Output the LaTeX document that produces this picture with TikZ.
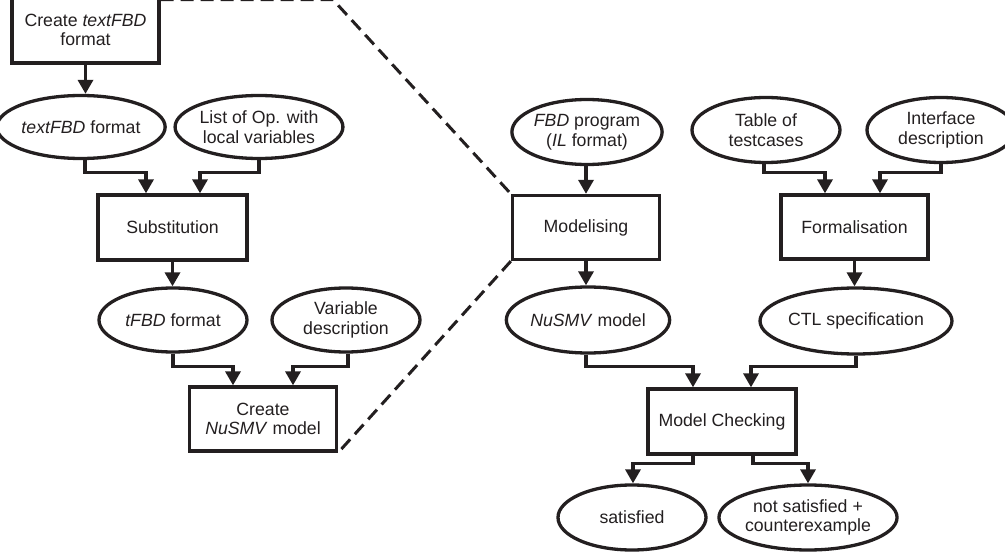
\documentclass[tikz,border=0pt]{standalone}
\usepackage{fontspec}
\setmainfont{Liberation Sans}
\usetikzlibrary{arrows.meta,shapes.geometric,calc}
\definecolor{ink}{RGB}{35,31,32}
\begin{document}
\begin{tikzpicture}[x=1pt,y=1pt,
  every node/.style={font=\fontsize{17.7}{19.5}\selectfont, text=ink, align=center},
  proc/.style={draw=ink, line width=3.3pt, rectangle, minimum width=147pt, minimum height=64pt, inner sep=0pt},
  data/.style={draw=ink, line width=3.3pt, ellipse, minimum width=148pt, minimum height=63pt, inner sep=0pt},
  arr/.style={draw=ink, line width=3.3pt, -{Triangle[length=14pt,width=15pt]}},
  zoomline/.style={draw=ink, line width=3pt, dash pattern=on 13pt off 7pt}]
\useasboundingbox (0,0) rectangle (1005,-556);
% left column
\node[proc, minimum height=66pt] (b1) at (85.5,-30) {Create \textit{textFBD}\\format};
\node[data] (e1) at (81,-127) {\textit{textFBD} format};
\node[data] (e2) at (259,-127) {List of Op. with\\local variables};
\node[proc, minimum width=149pt, minimum height=65pt] (b2) at (172.5,-227.5) {Substitution};
\node[data, minimum height=64pt] (e3) at (173,-320) {\textit{tFBD} format};
\node[data, minimum height=64pt] (e4) at (346,-320) {Variable\\description};
\node[proc] (b3) at (263,-419) {Create\\\textit{NuSMV} model};
% middle / right
\node[data, minimum height=65pt] (e5) at (587,-132) {\textit{FBD} program\\(\textit{IL} format)};
\node[proc] (b4) at (586,-227.5) {Modelising};
\node[data, minimum height=65pt] (e6) at (766,-130) {Table of\\testcases};
\node[data, minimum height=65pt] (e7) at (941,-130) {Interface\\description};
\node[proc] (b5) at (854.5,-227) {Formalisation};
\node[data, minimum width=150pt, minimum height=66pt] (e8) at (588,-320) {\textit{NuSMV} model};
\node[data, minimum height=66pt] (e9) at (856,-321) {CTL specification};
\node[proc, minimum width=148pt, minimum height=65pt] (b6) at (722,-421.5) {Model Checking};
\node[data, minimum height=65pt] (e10) at (632,-517.5) {satisfied};
\node[data, minimum height=65pt] (e11) at (808,-517.5) {not satisfied +\\counterexample};
% connectors
\draw[arr] (b1.south) -- (b1.south |- e1.north);
\draw[arr] (e1.south -| 85,0) |- ([xshift=-26.5pt,yshift=21pt]b2.north) -- ([xshift=-26.5pt]b2.north);
\draw[arr] (e2.south) |- ([xshift=27.5pt,yshift=21pt]b2.north) -- ([xshift=27.5pt]b2.north);
\draw[arr] (b2.south) -- (b2.south |- e3.north);
\draw[arr] (e3.south) |- ([xshift=-30pt,yshift=19pt]b3.north) -- ([xshift=-30pt]b3.north);
\draw[arr] (e4.south -| 348,0) |- ([xshift=30pt,yshift=19pt]b3.north) -- ([xshift=30pt]b3.north);
\draw[arr] (e5.south -| 586,0) -- (b4.north);
\draw[arr] (e6.south -| 764,0) |- ([xshift=-29.5pt,yshift=21pt]b5.north) -- ([xshift=-29.5pt]b5.north);
\draw[arr] (e7.south) |- ([xshift=25.5pt,yshift=21pt]b5.north) -- ([xshift=25.5pt]b5.north);
\draw[arr] (b4.south) -- (b4.south |- e8.north);
\draw[arr] (b5.south) -- (b5.south |- e9.north);
\draw[arr] (e8.south -| 586,0) |- ([xshift=-29pt,yshift=21pt]b6.north) -- ([xshift=-29pt]b6.north);
\draw[arr] (e9.south) |- ([xshift=29pt,yshift=21pt]b6.north) -- ([xshift=29pt]b6.north);
\draw[arr] ([xshift=-29pt]b6.south) |- ([xshift=1pt,yshift=20pt]e10.north) -- ([xshift=1pt]e10.north);
\draw[arr] ([xshift=31pt]b6.south) |- ([yshift=20pt]e11.north) -- (e11.north);
% dashed zoom lines
\coordinate (dc) at (333,0.3);
\draw[zoomline] (b1.east |- dc) -- (dc) -- (b4.north west);
\draw[zoomline] (b4.south west) -- (b3.south east);
\end{tikzpicture}
\end{document}
